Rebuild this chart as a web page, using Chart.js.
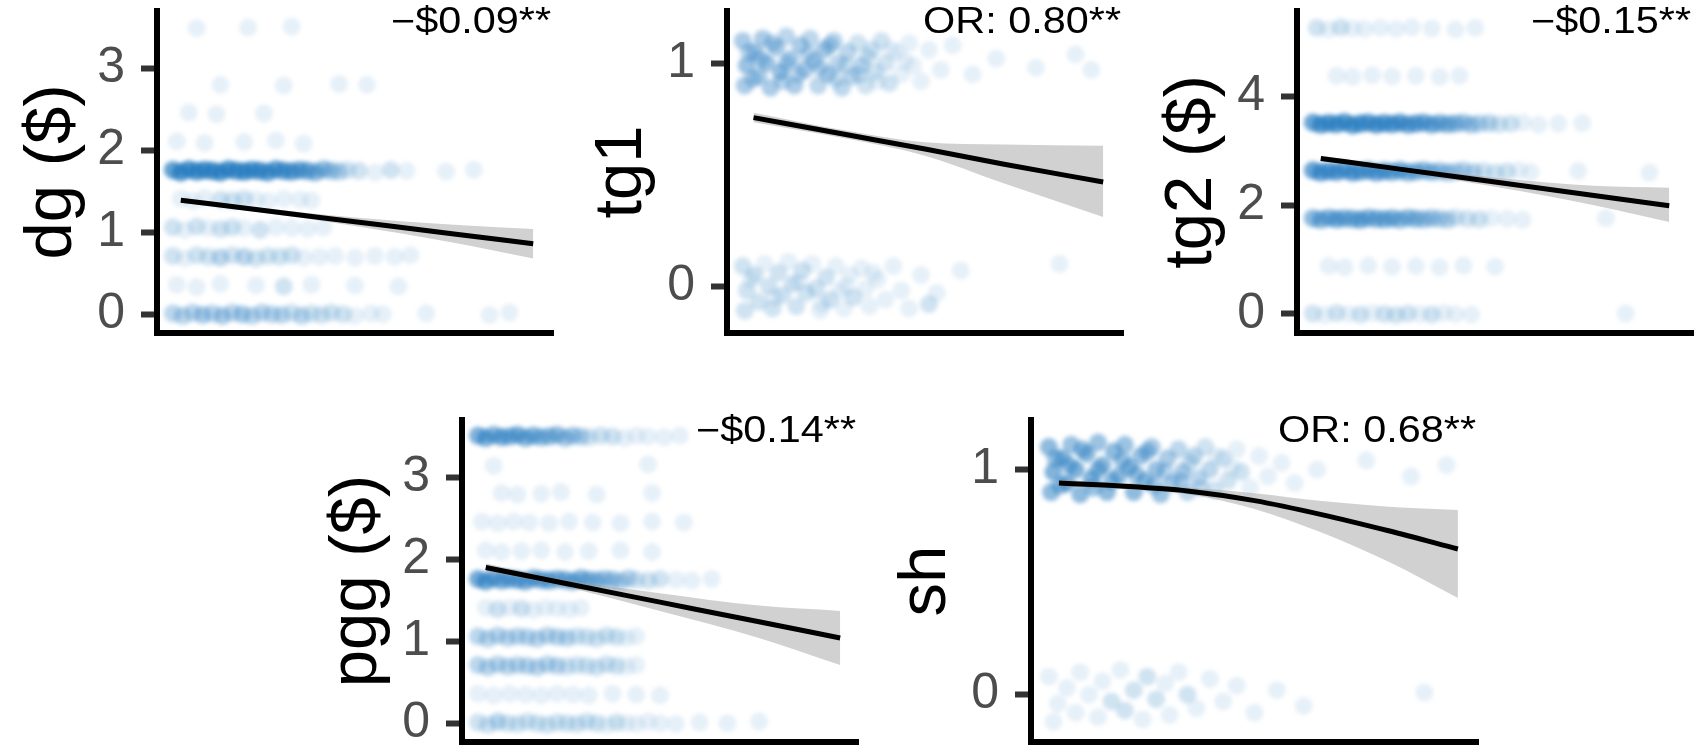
<!DOCTYPE html>
<html>
<head>
<meta charset="utf-8">
<script src="https://cdn.jsdelivr.net/npm/chart.js@4"></script>
<style>
  body { margin: 0; background: #fff; width: 1698px; height: 748px; position: relative; overflow: hidden; }
  canvas { position: absolute; }
</style>
</head>
<body>
<canvas id="dg"></canvas>
<canvas id="tg1"></canvas>
<canvas id="tg2"></canvas>
<canvas id="pgg"></canvas>
<canvas id="sh"></canvas>
<script>
// jittered observations: [x (0-100), y, count of overlapping obs]
const dgPoints = [
    [4,1.76,10],[6,1.73,12],[8,1.77,12],[10,1.74,12],[12,1.76,12],[14,1.75,12],[16,1.73,12],[18,1.77,12],[20,1.75,11],[22,1.74,12],
    [24,1.76,11],[26,1.75,11],[28,1.73,10],[30,1.77,10],[32,1.75,9],[34,1.74,9],[36,1.76,8],[38,1.75,7],[40,1.73,6],[42,1.77,5],
    [44,1.75,4],[46,1.74,3],[48,1.76,2],[51,1.75,2],[55,1.73,1],[59,1.76,2],[63,1.75,1],[73,1.74,1],[80,1.76,1],
    [4,0.01,3],[6.5,-0.02,3],[9,0.02,3],[11.5,-0.01,4],[14,0.01,3],[16.5,-0.02,4],[19,0.02,3],[21.5,0,4],[24,-0.02,3],[26.5,0.02,3],
    [29,0,3],[31.5,-0.01,3],[34,0.02,2],[36.5,-0.02,3],[39,0.01,2],[41.5,-0.01,2],[44,0.02,2],[47,0,2],[50,-0.02,1],[54,0.01,1],
    [57,0,1],[68,0.01,1],[84,-0.01,1],[89,0.02,1],
    [5,0.36,1],[10,0.33,1],[16,0.37,1],[25,0.35,1],[32,0.34,2],[39,0.36,1],[50,0.35,1],[61,0.34,1],
    [4,0.71,2],[7,0.68,1],[10,0.72,2],[13,0.7,2],[16,0.69,3],[19,0.72,2],[22,0.7,3],[25,0.68,2],[28,0.71,2],[31,0.7,2],
    [34,0.72,2],[37,0.69,1],[41,0.7,1],[45,0.71,1],[50,0.69,1],[55,0.71,1],[60,0.7,1],[64,0.72,1],
    [4,1.06,2],[7,1.03,1],[10,1.07,2],[13,1.05,1],[16,1.04,2],[19,1.06,2],[22,1.05,1],[26,1.03,2],[30,1.06,1],[34,1.05,1],[38,1.04,1],[42,1.06,1],
    [6,1.41,1],[9,1.38,1],[12,1.42,1],[16,1.4,2],[19,1.39,2],[22,1.41,2],[25,1.4,1],[28,1.38,1],[32,1.41,1],[36,1.4,1],[39,1.39,1],
    [5,2.11,1],[12,2.09,1],[22,2.1,1],[30,2.12,1],[37,2.08,1],
    [8,2.46,1],[15,2.44,1],[27,2.45,1],
    [16,2.8,1],[32,2.79,1],[46,2.81,1],[53,2.8,1],
    [10,3.49,1],[23,3.5,1],[34,3.51,1]
];

const tg1Points = [
    [4,1.1,4],[5,0.99,5],[4.5,0.9,4],[7,1.05,4],[8,0.94,4],[9,1.11,4],[10,1.0,5],[11,0.89,4],[12.5,1.07,4],[13.5,0.96,5],
    [15,1.12,3],[16,1.02,4],[17,0.9,4],[18.5,1.08,4],[19.5,0.97,4],[21,1.11,3],[22,1.01,4],[23,0.9,3],[24.5,1.06,4],[25.5,0.95,4],
    [27,1.1,3],[28,1.0,3],[29,0.89,3],[30.5,1.05,3],[31.5,0.94,3],[33,1.09,2],[34,0.99,3],[35,0.9,2],[36.5,1.06,2],[37.5,0.96,2],
    [39,1.1,2],[40,1.0,2],[41,0.91,2],[43,1.05,1],[44,0.95,1],[46,1.09,1],[47,0.99,1],[49,0.92,1],[51,1.06,1],[54,0.97,1],
    [57,1.08,1],[62,0.95,1],[68,1.02,1],[78,0.98,1],[88,1.04,1],[92,0.97,1],
    [5.5,1.05,3],[6.5,0.93,3],[8.5,1.02,3],[11.5,1.09,3],[14,0.92,3],[15,1.0,3],[18,0.95,3],[20.5,1.04,3],[23.5,0.98,3],[26,1.08,3],
    [27.5,0.93,2],[30,0.99,2],[33.5,0.95,2],[35.5,1.03,2],[38,0.92,1],[41.5,1.06,1],[45,1.01,1],
    [4,0.09,2],[5,-0.02,2],[4.5,-0.11,2],[7,0.05,2],[8,-0.07,2],[9.5,0.1,1],[10.5,0.0,2],[11.5,-0.1,2],[13,0.06,2],[14,-0.04,2],
    [15.5,0.11,1],[16.5,0.01,2],[17.5,-0.09,2],[19,0.07,2],[20,-0.03,2],[21.5,0.1,1],[22.5,-0.01,2],[23.5,-0.11,1],[25,0.04,2],[26,-0.06,2],
    [27.5,0.09,1],[28.5,-0.02,1],[29.5,-0.1,1],[31,0.05,1],[32,-0.05,2],[34,0.08,1],[35,-0.01,1],[36,-0.09,1],[38,0.03,1],[40,-0.06,1],
    [42,0.09,1],[44,-0.02,1],[46,-0.1,1],[49,0.05,1],[51,-0.08,2],[53,-0.03,1],[59,0.07,1],[84,0.1,1],
    [6,0.03,1],[12,-0.05,1],[18,0.02,1],[24,-0.08,1],[30,0.0,1],[37,0.06,1]
];

const tg2Points = [
    [4,3.52,9],[6,3.48,10],[8,3.51,10],[10,3.49,10],[12,3.53,10],[14,3.47,10],[16,3.5,10],[18,3.52,9],[20,3.48,10],[22,3.51,9],
    [24,3.49,9],[26,3.52,9],[28,3.48,8],[30,3.5,8],[32,3.52,7],[34,3.48,7],[36,3.51,6],[38,3.49,6],[40,3.5,5],[42,3.52,4],
    [44,3.48,4],[46,3.5,3],[48.5,3.51,3],[51,3.49,2],[54,3.5,2],[57,3.52,1],[61,3.48,1],[66,3.5,1],[72,3.51,1],
    [4,2.64,9],[6,2.6,9],[8,2.63,9],[10,2.61,9],[12,2.65,8],[14,2.6,9],[16,2.62,8],[18,2.64,8],[20,2.6,8],[22,2.63,8],
    [24,2.61,7],[26,2.64,7],[28,2.6,6],[30,2.62,6],[32,2.64,5],[34,2.61,5],[36,2.63,4],[38,2.6,4],[40,2.62,3],[42,2.64,3],
    [44.5,2.61,3],[47,2.63,2],[50,2.6,2],[53,2.62,2],[56,2.64,1],[59,2.61,1],[71,2.63,1],[89,2.6,1],
    [4,1.76,6],[6,1.73,6],[8,1.77,6],[10,1.74,7],[12,1.76,6],[14,1.75,6],[16,1.73,7],[18,1.77,6],[20,1.75,6],[22,1.74,6],
    [24,1.76,6],[26,1.73,5],[28,1.77,5],[30,1.75,5],[32,1.74,4],[34,1.76,4],[36,1.75,3],[38,1.73,3],[40,1.77,2],[43,1.75,2],
    [46,1.74,2],[49,1.76,1],[53,1.75,1],[57,1.73,1],[78,1.76,1],
    [5,5.26,2],[8,5.23,1],[11,5.27,2],[14,5.25,1],[17,5.24,1],[21,5.26,1],[25,5.24,1],[29,5.27,1],[34,5.25,1],[40,5.23,1],[45,5.26,1],
    [10,4.38,1],[14,4.36,1],[19,4.39,1],[24,4.37,1],[30,4.38,1],[36,4.36,1],[41,4.38,1],
    [8,0.88,1],[12,0.86,1],[18,0.89,1],[24,0.87,1],[30,0.88,1],[36,0.86,1],[42,0.89,1],[50,0.87,1],
    [4,0.01,2],[7,-0.02,1],[10,0.02,2],[13,0,1],[16,-0.01,2],[19,0.02,1],[22,0,2],[25,-0.02,2],[28,0.01,2],[31,0,1],
    [34,-0.01,2],[37,0.02,1],[40,0,1],[44,-0.01,1],[83,0.01,1]
];

const pggPoints = [
    [4,3.51,7],[6,3.48,7],[8,3.52,6],[10,3.49,7],[12,3.5,6],[14,3.52,7],[16,3.48,6],[18,3.51,6],[20,3.49,5],[22,3.5,5],
    [24,3.52,5],[26,3.48,4],[28,3.51,4],[30,3.5,3],[32,3.49,2],[35,3.51,2],[38,3.5,2],[41,3.48,1],[44,3.51,1],[47,3.5,1],
    [51,3.49,1],[55,3.51,1],
    [8,3.14,1],[47,3.16,1],
    [10,2.81,1],[14,2.79,1],[20,2.8,1],[25,2.82,1],[34,2.79,1],[48,2.81,1],
    [5,2.46,1],[9,2.44,1],[13,2.46,1],[17,2.45,1],[22,2.44,1],[27,2.46,1],[33,2.45,1],[40,2.44,1],[48,2.46,1],[56,2.45,1],
    [6,2.11,1],[10,2.09,1],[15,2.1,1],[20,2.11,1],[26,2.09,1],[32,2.1,1],[40,2.11,1],[48,2.09,1],
    [4,1.76,8],[6,1.73,8],[8,1.77,7],[10,1.74,7],[12,1.76,7],[14,1.75,7],[16,1.73,7],[18,1.77,7],[20,1.75,7],[22,1.74,7],
    [24,1.76,6],[26,1.75,6],[28,1.73,6],[30,1.77,6],[32,1.75,5],[34,1.74,5],[36,1.76,4],[38,1.75,4],[40,1.73,3],[42,1.77,3],
    [44,1.75,2],[47,1.74,2],[50,1.76,2],[54,1.75,1],[58,1.74,1],[63,1.76,1],
    [6,1.41,1],[9,1.39,2],[12,1.41,1],[15,1.4,2],[18,1.38,1],[21,1.41,1],[24,1.4,1],[27,1.39,1],[30,1.41,1],
    [4,1.06,3],[6.5,1.03,3],[9,1.07,3],[11.5,1.04,3],[14,1.06,3],[16.5,1.05,3],[19,1.03,3],[21.5,1.07,3],[24,1.05,3],[26.5,1.04,3],
    [29,1.06,2],[31.5,1.05,2],[34,1.03,2],[36.5,1.07,2],[39,1.05,2],[41.5,1.04,1],[44,1.06,1],
    [4,0.71,3],[6.5,0.68,3],[9,0.72,3],[11.5,0.69,3],[14,0.71,3],[16.5,0.7,3],[19,0.68,3],[21.5,0.72,3],[24,0.7,3],[26.5,0.69,2],
    [29,0.71,2],[31.5,0.7,2],[34,0.68,2],[36.5,0.72,2],[39,0.7,2],[41.5,0.69,1],[44,0.71,1],
    [4,0.36,1],[8,0.34,1],[12,0.36,1],[16,0.35,1],[20,0.34,1],[24,0.36,1],[28,0.35,1],[32,0.34,1],[38,0.36,1],[44,0.35,1],[50,0.34,1],
    [4,0.01,2],[6.5,-0.02,2],[9,0.02,3],[11.5,0,2],[14,-0.01,2],[16.5,0.02,2],[19,0,2],[21.5,-0.02,2],[24,0.01,2],[26.5,0,2],
    [29,-0.01,2],[31.5,0.02,2],[34,0,2],[36.5,-0.02,1],[39,0.01,2],[41.5,0,1],[44,-0.01,1],[47,0.02,1],[50,0,1],[54,-0.01,1],
    [60,0.01,1],[67,0,1],[75,0.02,1]
];

const shPoints = [
    [4,1.1,6],[5,0.99,7],[4.5,0.9,6],[7,1.05,6],[8,0.94,7],[9,1.11,5],[10,1.0,7],[11,0.89,6],[12.5,1.07,6],[13.5,0.96,7],
    [15,1.12,5],[16,1.02,6],[17,0.9,6],[18.5,1.08,6],[19.5,0.97,6],[21,1.11,5],[22,1.01,6],[23,0.9,6],[24.5,1.06,5],[25.5,0.95,6],
    [27,1.1,4],[28,1.0,5],[29,0.89,5],[30.5,1.05,4],[31.5,0.94,4],[33,1.09,3],[34,0.99,4],[35,0.9,3],[36.5,1.06,3],[37.5,0.96,3],
    [39,1.1,2],[40,1.0,3],[41,0.91,2],[43,1.05,2],[44,0.95,2],[46,1.09,1],[47,0.99,2],[49,0.92,1],[51,1.06,1],[53,0.97,1],
    [56,1.03,1],[59,0.94,1],[64,1.0,1],[75,1.04,1],[85,0.97,1],[93,1.02,1],
    [5.5,1.05,5],[6.5,0.93,5],[8.5,1.02,5],[11.5,1.09,5],[14,0.92,5],[15,1.0,5],[18,0.95,5],[20.5,1.04,5],[23.5,0.98,5],[26,1.08,4],
    [27.5,0.93,4],[30,0.99,3],[33.5,0.95,3],[35.5,1.03,2],[38,0.92,2],[41.5,1.06,1],[45,1.01,1],
    [4,0.08,1],[6,-0.04,1],[5,-0.12,1],[8,0.03,1],[10,-0.08,1],[11,0.1,1],[13,0.0,1],[15,-0.1,1],[16,0.06,1],[18,-0.03,2],
    [20,0.11,1],[21,-0.07,2],[23,0.02,2],[25,-0.11,1],[26,0.08,2],[28,-0.02,2],[30,0.05,1],[31,-0.09,1],[33,0.1,1],[35,0.0,2],
    [37,-0.06,1],[40,0.07,1],[43,-0.03,1],[46,0.04,1],[50,-0.08,1],[55,0.02,1],[61,-0.05,1],[88,0.01,1]
];

// fitted line and confidence band
const dgFitX = [6, 25, 50, 75, 95];
const dgFit = [1.39, 1.277, 1.128, 0.979, 0.86];
const dgLower = [1.36, 1.25, 1.075, 0.87, 0.68];
const dgUpper = [1.42, 1.305, 1.18, 1.09, 1.04];

const tg1FitX = [6.7, 30, 50, 70, 95];
const tg1Fit = [0.756, 0.68, 0.615, 0.547, 0.467];
const tg1Lower = [0.735, 0.662, 0.585, 0.46, 0.31];
const tg1Upper = [0.778, 0.698, 0.645, 0.635, 0.63];

const tg2FitX = [6, 25, 50, 75, 94];
const tg2Fit = [2.86, 2.672, 2.425, 2.178, 1.99];
const tg2Lower = [2.81, 2.63, 2.34, 2.0, 1.69];
const tg2Upper = [2.91, 2.714, 2.51, 2.356, 2.32];

const pggFitX = [6, 25, 50, 75, 95.5];
const pggFit = [1.9, 1.717, 1.477, 1.237, 1.04];
const pggLower = [1.85, 1.675, 1.37, 1.04, 0.71];
const pggUpper = [1.95, 1.76, 1.585, 1.435, 1.37];

const shFitX = [6.25, 20, 35, 50, 65, 80, 95.5];
const shFit = [0.94, 0.927, 0.905, 0.862, 0.80, 0.728, 0.647];
const shLower = [0.925, 0.915, 0.89, 0.825, 0.72, 0.59, 0.43];
const shUpper = [0.955, 0.94, 0.92, 0.895, 0.86, 0.835, 0.82];

const dgTicks = [0, 1, 2, 3];
const tg1Ticks = [0, 1];
const tg2Ticks = [0, 2, 4];
const pggTicks = [0, 1, 2, 3];
const shTicks = [0, 1];

const FONT = '"Liberation Sans", Arial, sans-serif';
const BLUE = '31,119,190';
const ALPHA = 0.11;

// overlapping points stack their alpha
function pointColor(ctx) {
    const n = ctx.raw ? ctx.raw.n : 1;
    return `rgba(${BLUE},${(1 - Math.pow(1 - ALPHA, n)).toFixed(3)})`;
}

// effect estimate in the top right corner
const noteText = {
    id: 'noteText',
    afterDraw(chart, args, opts) {
        const { ctx, chartArea } = chart;
        ctx.save();
        ctx.font = '36px ' + FONT;
        ctx.fillStyle = '#000';
        ctx.textAlign = 'right';
        ctx.textBaseline = 'middle';
        ctx.translate(chartArea.right - 2, chartArea.top + 12);
        ctx.scale(1.15, 1);
        ctx.fillText(opts.text, 0, 0);
        ctx.restore();
    }
};

// soften the jittered points a little
const softPoints = {
    id: 'softPoints',
    beforeDatasetDraw(chart, args) {
        if (args.index !== 3) return;
        chart.ctx.save();
        chart.ctx.filter = 'blur(2px)';
    },
    afterDatasetDraw(chart, args) {
        if (args.index !== 3) return;
        chart.ctx.restore();
    }
};

function xy(xs, ys) {
    return xs.map((x, i) => ({ x: x, y: ys[i] }));
}

function panel(id, left, top, plotWidth, title, yRange, ticks, points, fitX, fit, lower, upper, note) {
    const canvas = document.getElementById(id);
    canvas.width = 157 + plotWidth + 4;
    canvas.height = 342;
    canvas.style.left = left + 'px';
    canvas.style.top = top + 'px';
    return new Chart(canvas, {
        type: 'scatter',
        data: {
            datasets: [
                { type: 'line', data: xy(fitX, fit), borderColor: '#000', borderWidth: 5, pointRadius: 0, cubicInterpolationMode: 'monotone', fill: false },
                { type: 'line', data: xy(fitX, upper), borderColor: 'transparent', borderWidth: 0, pointRadius: 0, cubicInterpolationMode: 'monotone', fill: '+1', backgroundColor: 'rgba(153,153,153,0.45)' },
                { type: 'line', data: xy(fitX, lower), borderColor: 'transparent', borderWidth: 0, pointRadius: 0, cubicInterpolationMode: 'monotone', fill: false },
                { data: points.map(([x, y, n]) => ({ x, y, n })), pointRadius: 9, pointBorderWidth: 0, backgroundColor: pointColor }
            ]
        },
        options: {
            responsive: false,
            animation: false,
            devicePixelRatio: 1,
            layout: { padding: { top: 11, right: 4, bottom: 4, left: 0 } },
            plugins: {
                legend: { display: false },
                tooltip: { enabled: false },
                noteText: { text: note }
            },
            scales: {
                x: {
                    type: 'linear', min: 0, max: 100,
                    ticks: { display: false },
                    grid: { display: false, drawTicks: false },
                    border: { display: true, color: '#000', width: 6 },
                    afterFit: (s) => { s.height = 0; s.paddingLeft = 0; s.paddingRight = 0; }
                },
                y: {
                    min: yRange[0], max: yRange[1],
                    afterBuildTicks: (s) => { s.ticks = ticks.map(v => ({ value: v })); },
                    // fixed axis width; tick labels may overhang the plot edges
                    afterFit: (s) => { s.width = 157; s.paddingTop = 0; s.paddingBottom = 0; },
                    ticks: { color: '#4d4d4d', font: { family: FONT, size: 50 }, padding: 16 },
                    grid: { display: true, drawOnChartArea: false, drawTicks: true, tickLength: 16, tickWidth: 6, tickColor: '#333' },
                    border: { display: true, color: '#000', width: 6 },
                    title: { display: true, text: title, color: '#000', font: { family: FONT, size: 67, lineHeight: 1 }, padding: { top: 19, bottom: 0 } }
                }
            }
        },
        plugins: [softPoints, noteText]
    });
}

panel('dg', 0, 0, 401, 'dg ($)', [-0.23, 3.7], dgTicks, dgPoints, dgFitX, dgFit, dgLower, dgUpper, '\u2212$0.09**');
panel('tg1', 570, 0, 401, 'tg1', [-0.21, 1.234], tg1Ticks, tg1Points, tg1FitX, tg1Fit, tg1Lower, tg1Upper, 'OR: 0.80**');
panel('tg2', 1140, 0, 401, 'tg2 ($)', [-0.35, 5.57], tg2Ticks, tg2Points, tg2FitX, tg2Fit, tg2Lower, tg2Upper, '\u2212$0.15**');
panel('pgg', 305, 409, 401, 'pgg ($)', [-0.23, 3.7], pggTicks, pggPoints, pggFitX, pggFit, pggLower, pggUpper, '\u2212$0.14**');
panel('sh', 874, 409, 452, 'sh', [-0.21, 1.22], shTicks, shPoints, shFitX, shFit, shLower, shUpper, 'OR: 0.68**');
</script>
</body>
</html>
